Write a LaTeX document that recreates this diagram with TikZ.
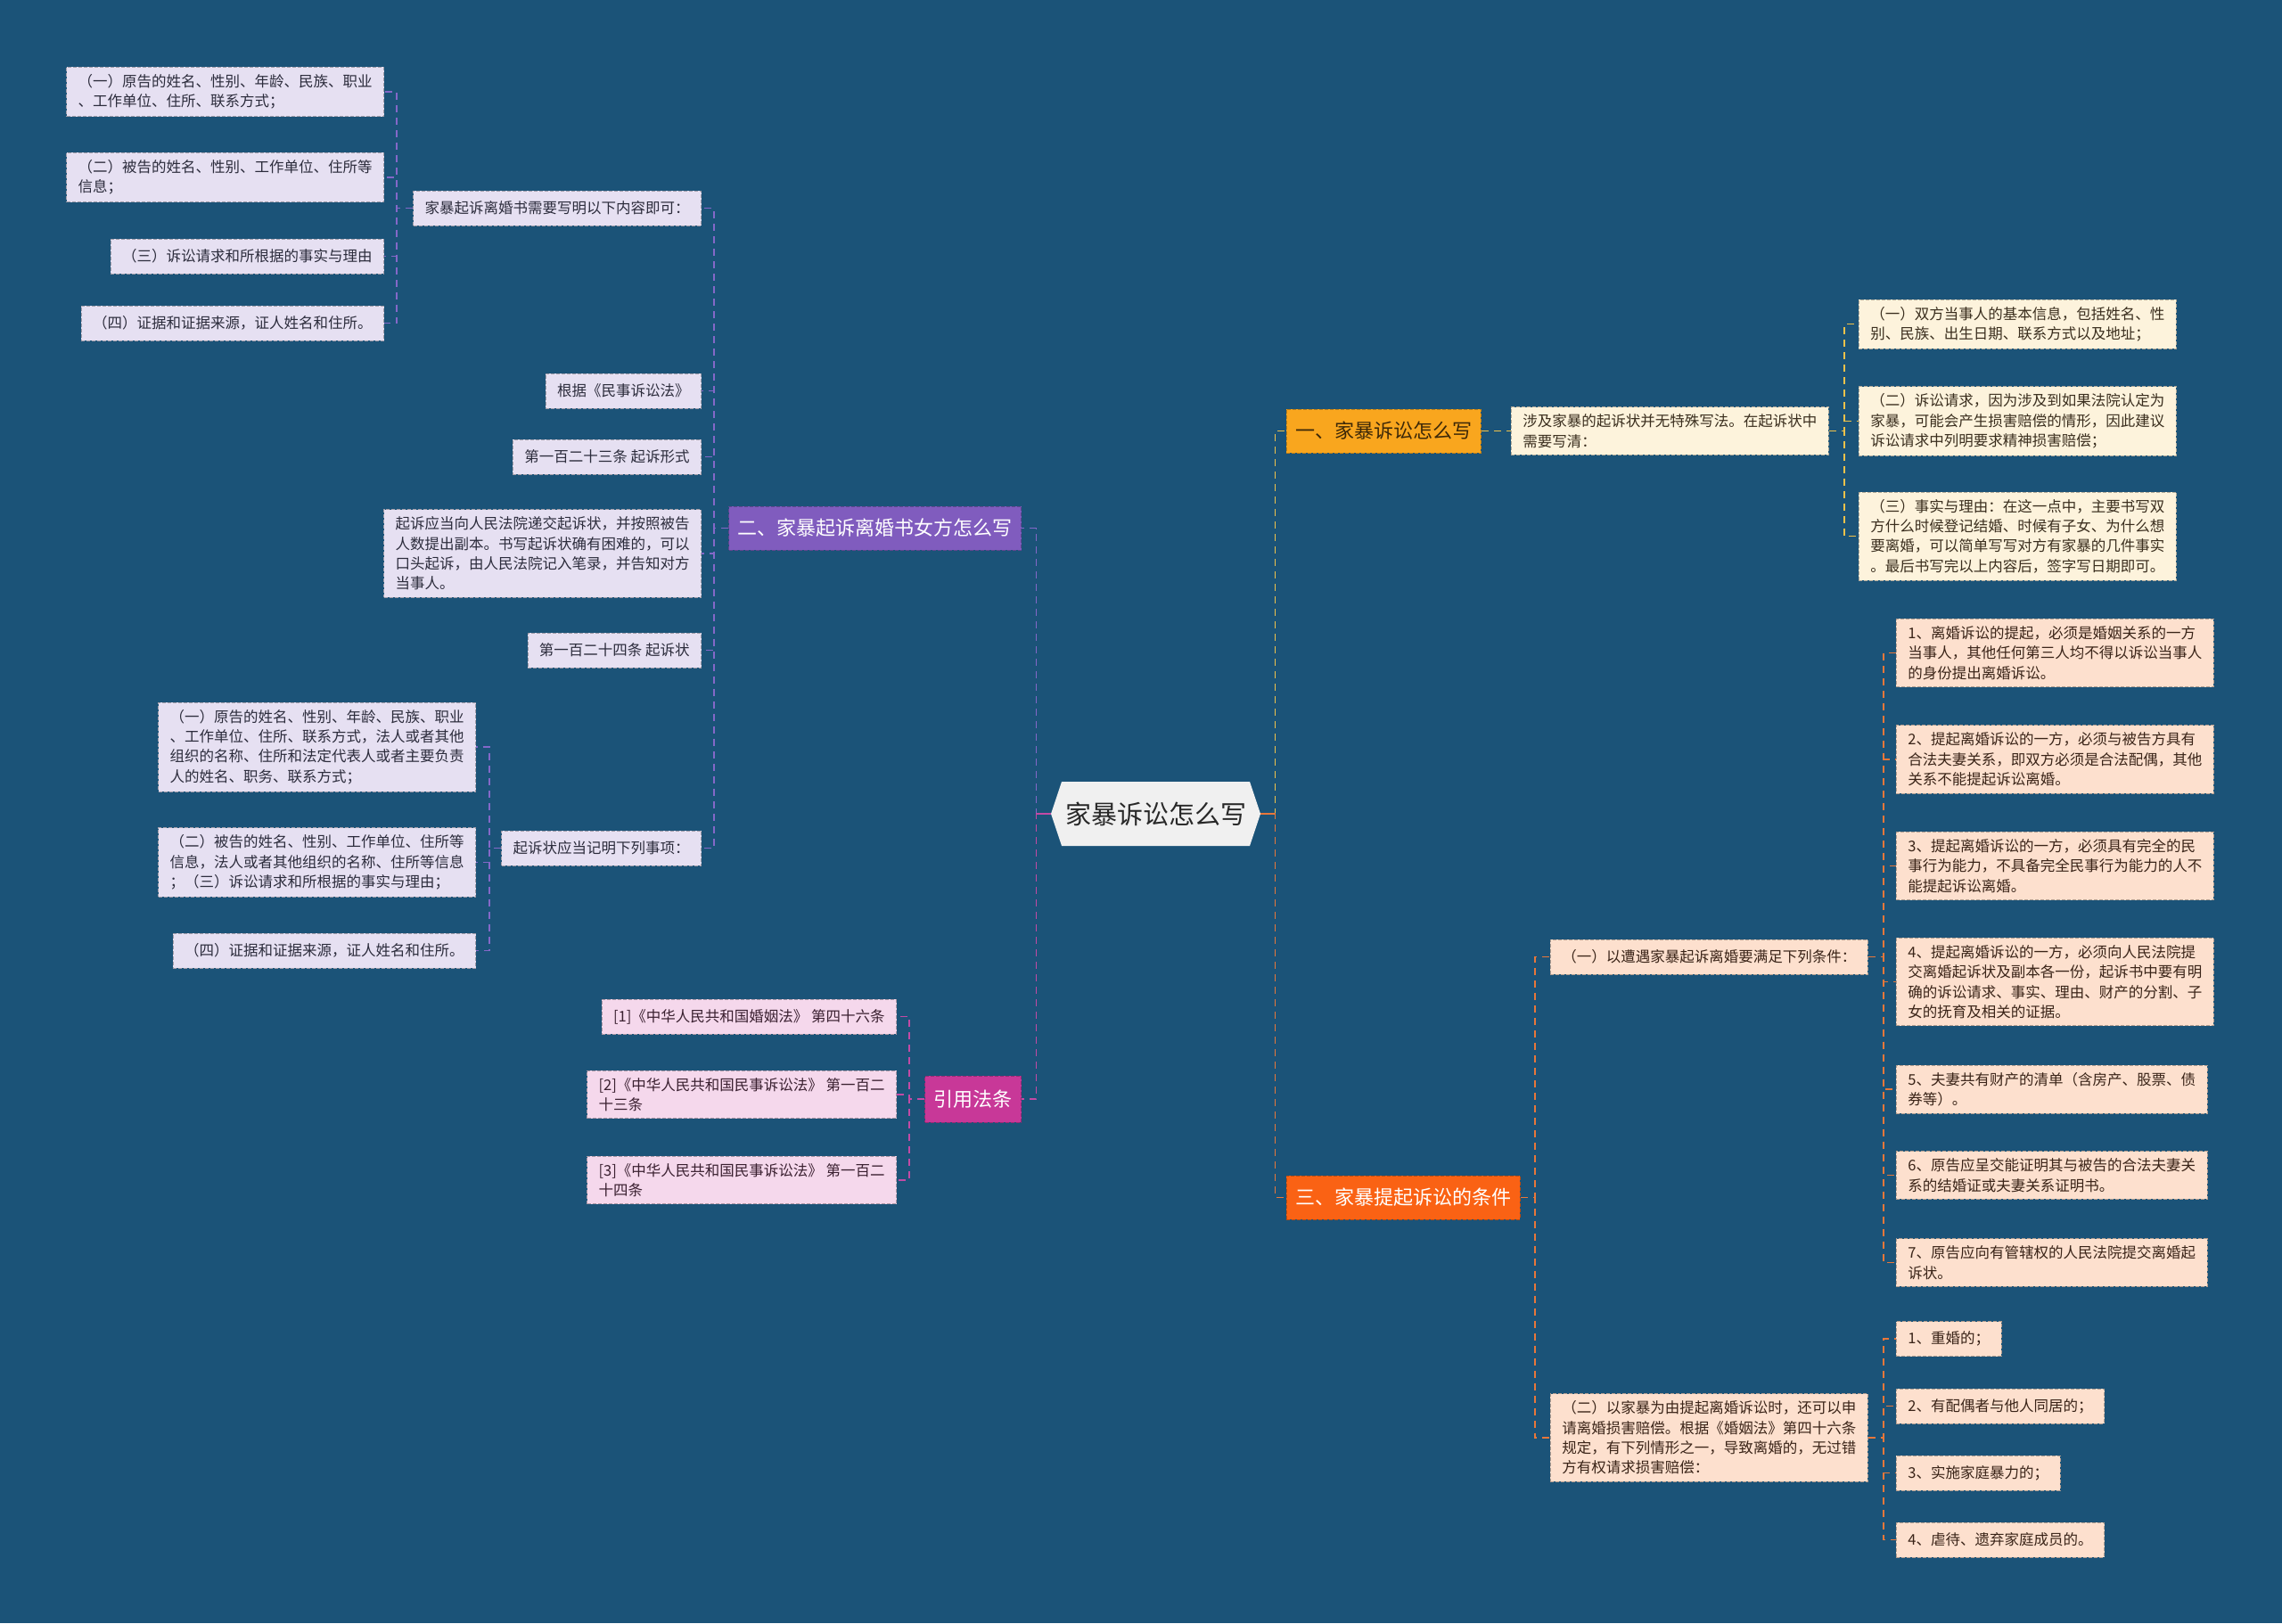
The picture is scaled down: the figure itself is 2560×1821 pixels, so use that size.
\documentclass[tikz,border=0pt]{standalone}
\usepackage{fontspec}
\setmainfont{Noto Sans CJK SC}

\definecolor{bgblue}{RGB}{27,83,120}
\definecolor{rootfill}{RGB}{240,240,240}
\definecolor{roottext}{RGB}{40,40,40}
% branch colours
\definecolor{yorg}{RGB}{249,166,30}
\definecolor{ybtext}{RGB}{60,40,8}
\definecolor{ored}{RGB}{250,98,20}
\definecolor{purp}{RGB}{128,92,190}
\definecolor{mag}{RGB}{200,56,152}
% leaf colours
\definecolor{yfill}{RGB}{253,243,220}
\definecolor{ytext}{RGB}{58,46,30}
\definecolor{ofill}{RGB}{253,224,206}
\definecolor{otext}{RGB}{58,36,24}
\definecolor{pfill}{RGB}{230,224,242}
\definecolor{ptext}{RGB}{44,44,60}
\definecolor{mfill}{RGB}{245,216,236}
\definecolor{mtext}{RGB}{58,32,48}
% line colours
\definecolor{yline}{RGB}{240,194,74}
\definecolor{oline}{RGB}{232,119,58}
\definecolor{pline}{RGB}{132,104,200}
\definecolor{mline}{RGB}{195,74,165}

\tikzset{
  leaf/.style={draw=#1!70!black, fill=#1, dash pattern=on 2pt off 1pt,
    line width=0.4pt, inner xsep=6.5pt, inner ysep=4pt, minimum height=19.5pt,
    align=left, font=\fontsize{8.25pt}{11.2pt}\selectfont},
  yleaf/.style={leaf=yfill, text=ytext},
  oleaf/.style={leaf=ofill, text=otext},
  pleaf/.style={leaf=pfill, text=ptext},
  mleaf/.style={leaf=mfill, text=mtext},
  branch/.style={fill=#1, draw=#1!75!black, dash pattern=on 2pt off 1pt,
    line width=0.4pt, inner xsep=5pt, minimum height=24.5pt,
    font=\fontsize{11pt}{13pt}\selectfont},
  link/.style={draw=#1, dash pattern=on 4pt off 3pt, line width=0.8pt},
}

\begin{document}
\begin{tikzpicture}[x=0.5pt, y=-0.5pt]
\useasboundingbox (0,0) rectangle (2560,1821);
\fill[bgblue] (0,0) rectangle (2560,1821);

% root
\fill[rootfill] (1179,913) -- (1191,877) -- (1402,877) -- (1414,913)
  -- (1402,949) -- (1191,949) -- cycle;
\node[font=\fontsize{14.5pt}{16pt}\selectfont, text=roottext, minimum width=117.5pt,
  minimum height=36pt, inner sep=0pt] (root) at (1296.5,913) {家暴诉讼怎么写};

% branch one
\node[branch=yorg, text=ybtext, anchor=west] (n1) at (1443,483.5) {一、家暴诉讼怎么写};
\node[yleaf, anchor=west] (n1a) at (1695,483.5) {涉及家暴的起诉状并无特殊写法。在起诉状中\\需要写清：};
\node[yleaf, anchor=west] (n1a1) at (2085,363.5) {（一）双方当事人的基本信息，包括姓名、性\\别、民族、出生日期、联系方式以及地址；};
\node[yleaf, anchor=west] (n1a2) at (2085,472.5) {（二）诉讼请求，因为涉及到如果法院认定为\\家暴，可能会产生损害赔偿的情形，因此建议\\诉讼请求中列明要求精神损害赔偿；};
\node[yleaf, anchor=west] (n1a3) at (2085,601.5) {（三）事实与理由：在这一点中，主要书写双\\方什么时候登记结婚、时候有子女、为什么想\\要离婚，可以简单写写对方有家暴的几件事实\\。最后书写完以上内容后，签字写日期即可。};

% branch three
\node[branch=ored, text=white, anchor=west] (n3) at (1443,1343.5) {三、家暴提起诉讼的条件};
\node[oleaf, anchor=west] (n3a) at (1739,1073.5) {（一）以遭遇家暴起诉离婚要满足下列条件：};
\node[oleaf, anchor=west] (n3b) at (1739,1613) {（二）以家暴为由提起离婚诉讼时，还可以申\\请离婚损害赔偿。根据《婚姻法》第四十六条\\规定，有下列情形之一，导致离婚的，无过错\\方有权请求损害赔偿：};
\node[oleaf, anchor=west] (n3a1) at (2127,732.5) {1、离婚诉讼的提起，必须是婚姻关系的一方\\当事人，其他任何第三人均不得以诉讼当事人\\的身份提出离婚诉讼。};
\node[oleaf, anchor=west] (n3a2) at (2127,852) {2、提起离婚诉讼的一方，必须与被告方具有\\合法夫妻关系，即双方必须是合法配偶，其他\\关系不能提起诉讼离婚。};
\node[oleaf, anchor=west] (n3a3) at (2127,971.5) {3、提起离婚诉讼的一方，必须具有完全的民\\事行为能力，不具备完全民事行为能力的人不\\能提起诉讼离婚。};
\node[oleaf, anchor=west] (n3a4) at (2127,1101.5) {4、提起离婚诉讼的一方，必须向人民法院提\\交离婚起诉状及副本各一份，起诉书中要有明\\确的诉讼请求、事实、理由、财产的分割、子\\女的抚育及相关的证据。};
\node[oleaf, anchor=west] (n3a5) at (2127,1222) {5、夫妻共有财产的清单（含房产、股票、债\\券等）。};
\node[oleaf, anchor=west] (n3a6) at (2127,1318.5) {6、原告应呈交能证明其与被告的合法夫妻关\\系的结婚证或夫妻关系证明书。};
\node[oleaf, anchor=west] (n3a7) at (2127,1416.5) {7、原告应向有管辖权的人民法院提交离婚起\\诉状。};
\node[oleaf, anchor=west] (n3b1) at (2127,1502) {1、重婚的；};
\node[oleaf, anchor=west] (n3b2) at (2127,1577.5) {2、有配偶者与他人同居的；};
\node[oleaf, anchor=west] (n3b3) at (2127,1652.5) {3、实施家庭暴力的；};
\node[oleaf, anchor=west] (n3b4) at (2127,1727.5) {4、虐待、遗弃家庭成员的。};

% branch two
\node[branch=purp, text=white, anchor=east] (n2) at (1146,592.5) {二、家暴起诉离婚书女方怎么写};
\node[pleaf, anchor=east] (n2a) at (787,233.5) {家暴起诉离婚书需要写明以下内容即可：};
\node[pleaf, anchor=east] (n2b) at (787,438.5) {根据《民事诉讼法》};
\node[pleaf, anchor=east] (n2c) at (787,512.5) {第一百二十三条 起诉形式};
\node[pleaf, anchor=east] (n2d) at (787,621) {起诉应当向人民法院递交起诉状，并按照被告\\人数提出副本。书写起诉状确有困难的，可以\\口头起诉，由人民法院记入笔录，并告知对方\\当事人。};
\node[pleaf, anchor=east] (n2e) at (787,729.5) {第一百二十四条 起诉状};
\node[pleaf, anchor=east] (n2f) at (787,951.5) {起诉状应当记明下列事项：};
\node[pleaf, anchor=east] (n2a1) at (431,103) {（一）原告的姓名、性别、年龄、民族、职业\\、工作单位、住所、联系方式；};
\node[pleaf, anchor=east] (n2a2) at (431,199) {（二）被告的姓名、性别、工作单位、住所等\\信息；};
\node[pleaf, anchor=east] (n2a3) at (431,287.5) {（三）诉讼请求和所根据的事实与理由};
\node[pleaf, anchor=east] (n2a4) at (431,362.5) {（四）证据和证据来源，证人姓名和住所。};
\node[pleaf, anchor=east] (n2f1) at (534,838) {（一）原告的姓名、性别、年龄、民族、职业\\、工作单位、住所、联系方式，法人或者其他\\组织的名称、住所和法定代表人或者主要负责\\人的姓名、职务、联系方式；};
\node[pleaf, anchor=east] (n2f2) at (534,967.5) {（二）被告的姓名、性别、工作单位、住所等\\信息，法人或者其他组织的名称、住所等信息\\；（三）诉讼请求和所根据的事实与理由；};
\node[pleaf, anchor=east] (n2f3) at (534,1066.5) {（四）证据和证据来源，证人姓名和住所。};

% branch four
\node[branch=mag, text=white, anchor=east, minimum height=26pt] (n4) at (1146,1233) {引用法条};
\node[mleaf, anchor=east] (cite1) at (1006,1140.5) {[1]《中华人民共和国婚姻法》 第四十六条};
\node[mleaf, anchor=east] (cite2) at (1006,1228) {[2]《中华人民共和国民事诉讼法》 第一百二\\十三条};
\node[mleaf, anchor=east] (cite3) at (1006,1324) {[3]《中华人民共和国民事诉讼法》 第一百二\\十四条};

% connectors
\draw[link=yline] (root.east) -- ++(16,0) |- (n1.west);
\draw[link=oline] (root.east) -- ++(16,0) |- (n3.west);
\draw[link=pline] (root.west) -- ++(-16,0) |- (n2.east);
\draw[link=mline] (root.west) -- ++(-16,0) |- (n4.east);
\draw[oline, line width=1pt] (root.east) -- ++(16,0);
\draw[mline, line width=1pt] (root.west) -- ++(-16,0);

\draw[link=yline] (n1.east) -- (n1a.west);
\foreach \c in {n1a1,n1a2,n1a3}
  \draw[link=yline] (n1a.east) -- ++(17,0) |- (\c.west);

\foreach \c in {n3a,n3b}
  \draw[link=oline] (n3.east) -- ++(16,0) |- (\c.west);
\foreach \c in {1,...,7}
  \draw[link=oline] (n3a.east) -- ++(17,0) |- (n3a\c.west);
\foreach \c in {1,...,4}
  \draw[link=oline] (n3b.east) -- ++(17,0) |- (n3b\c.west);

\foreach \c in {n2a,n2b,n2c,n2d,n2e,n2f}
  \draw[link=pline] (n2.west) -- ++(-16,0) |- (\c.east);
\foreach \c in {1,...,4}
  \draw[link=pline] (n2a.west) -- ++(-18,0) |- (n2a\c.east);
\foreach \c in {1,...,3}
  \draw[link=pline] (n2f.west) -- ++(-13,0) |- (n2f\c.east);

\foreach \c in {1,...,3}
  \draw[link=mline] (n4.west) -- ++(-17,0) |- (cite\c.east);
\end{tikzpicture}
\end{document}
